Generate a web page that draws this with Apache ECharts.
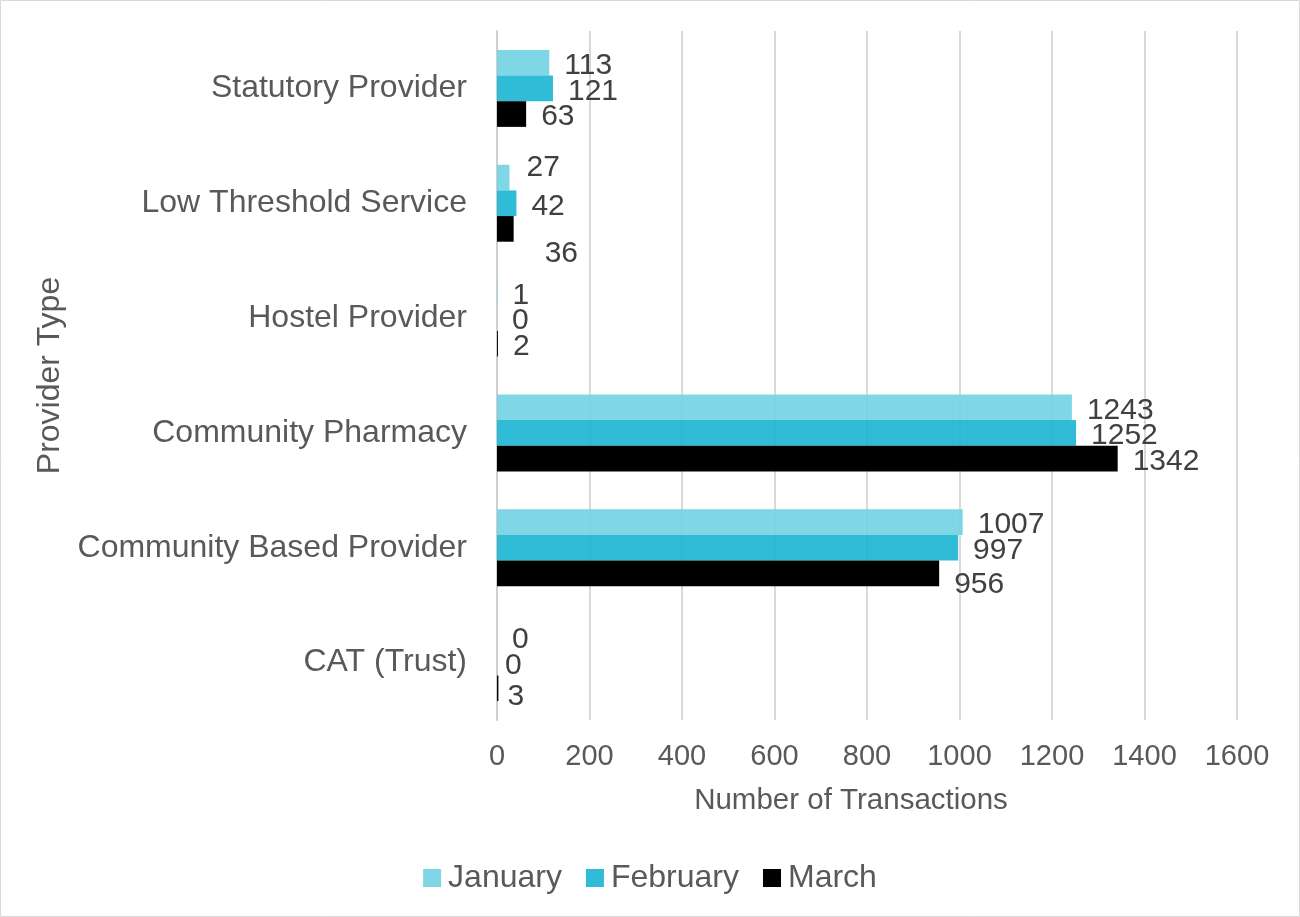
<!DOCTYPE html>
<html>
<head>
<meta charset="utf-8">
<script src="https://cdn.jsdelivr.net/npm/echarts@6/dist/echarts.min.js"></script>
<style>
  html, body { margin: 0; padding: 0; background: #fff; }
  #chart { width: 1300px; height: 917px; }
</style>
</head>
<body>
<div id="chart"></div>
<script>
// categories top to bottom
var providers = ['Statutory Provider', 'Low Threshold Service', 'Hostel Provider',
                 'Community Pharmacy', 'Community Based Provider', 'CAT (Trust)'];
var january  = [113, 27, 1, 1243, 1007, 0];
var february = [121, 42, 0, 1252, 997, 0];
var march    = [63, 36, 2, 1342, 956, 3];
var xTicks   = [0, 200, 400, 600, 800, 1000, 1200, 1400, 1600];

// a few data labels were dragged by hand in the original
var labelNudge = {
    'January|1': [2, -13],
    'March|1': [16, 22],
    'February|5': [-7, 0],
    'March|5': [-6, 6],
    'March|4': [0, 8]
};

var chart = echarts.init(document.getElementById('chart'));

var font = 'Liberation Sans, Arial, sans-serif';

function makeSeries(name, values, color) {
    var items = values.map(function (v, i) {
        var nudge = labelNudge[name + '|' + i];
        if (!nudge) return v;
        return { value: v, label: { offset: [nudge[0], nudge[1] + 3] } };
    });
    return {
        name: name,
        type: 'bar',
        data: items,
        barGap: '0%',
        barCategoryGap: '33%',
        itemStyle: { color: color },
        label: {
            show: true,
            position: 'right',
            distance: 15,
            offset: [0, 3],
            fontFamily: font,
            fontSize: 30,
            color: '#404040'
        }
    };
}

var option = {
    backgroundColor: '#fff',
    textStyle: { fontFamily: font },
    animation: false,
    graphic: [{
        type: 'rect',
        shape: { x: 0.5, y: 0.5, width: 1299, height: 916 },
        style: { fill: 'none', stroke: '#d9d9d9', lineWidth: 1 }
    }],
    legend: {
        bottom: 18,
        left: 'center',
        itemWidth: 18,
        itemHeight: 18,
        itemGap: 24,
        icon: 'rect',
        textStyle: { fontFamily: font, fontSize: 32, color: '#595959', padding: [0, 0, 0, 2] },
        data: ['January', 'February', 'March']
    },
    grid: { left: 497, right: 63, top: 31, bottom: 197 },
    xAxis: {
        type: 'value',
        min: xTicks[0],
        max: xTicks[xTicks.length - 1],
        interval: xTicks[1] - xTicks[0],
        name: 'Number of Transactions',
        nameLocation: 'middle',
        nameGap: 66,
        nameTextStyle: { fontFamily: font, fontSize: 29.5, color: '#595959', padding: [0, 32, 0, 0] },
        axisLine: { show: false },
        axisTick: { show: false },
        axisLabel: {
            fontFamily: font, fontSize: 29, color: '#595959', margin: 22,
            formatter: function (v) { return String(v); }
        },
        splitLine: { lineStyle: { color: '#d9d9d9', width: 2 } }
    },
    yAxis: {
        type: 'category',
        inverse: true,
        data: providers,
        name: 'Provider Type',
        nameLocation: 'middle',
        nameGap: 419,
        nameTextStyle: { fontFamily: font, fontSize: 32, color: '#595959' },
        axisLine: { lineStyle: { color: '#cfcfcf', width: 2 } },
        axisTick: { show: false },
        axisLabel: { fontFamily: font, fontSize: 32, color: '#595959', margin: 30 }
    },
    series: [
        makeSeries('January', january, 'rgba(113,209,226,0.9)'),
        makeSeries('February', february, 'rgba(26,180,209,0.9)'),
        makeSeries('March', march, '#000000')
    ]
};

chart.setOption(option);
window.addEventListener('resize', function () { chart.resize(); });
</script>
</body>
</html>
